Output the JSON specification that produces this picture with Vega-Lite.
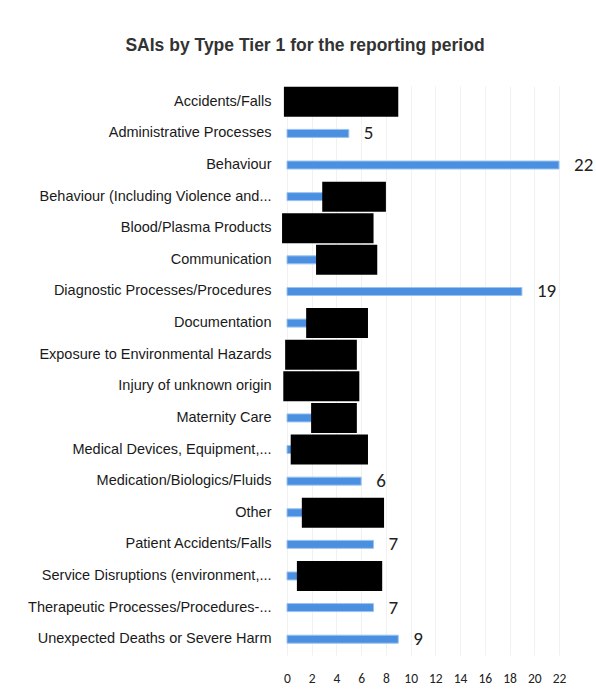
{
  "$schema": "https://vega.github.io/schema/vega-lite/v6.json",
  "width": 272,
  "height": 569,
  "autosize": {"type": "none"},
  "padding": {"left": 287, "top": 86, "right": 37, "bottom": 36},
  "background": "white",
  "title": {
    "text": "SAIs by Type Tier 1 for the reporting period",
    "font": "Liberation Sans Narrow, Liberation Sans, Arial",
    "fontSize": 17.5,
    "fontWeight": "bold",
    "color": "#333333",
    "anchor": "middle",
    "dx": -118,
    "offset": 32
  },
  "datasets": {
    "bars": [
      {"type": "Accidents/Falls", "count": 7, "redacted": true},
      {"type": "Administrative Processes", "count": 5, "redacted": false},
      {"type": "Behaviour", "count": 22, "redacted": false},
      {"type": "Behaviour (Including Violence and...", "count": 4, "redacted": true},
      {"type": "Blood/Plasma Products", "count": 4, "redacted": true},
      {"type": "Communication", "count": 3, "redacted": true},
      {"type": "Diagnostic Processes/Procedures", "count": 19, "redacted": false},
      {"type": "Documentation", "count": 2, "redacted": true},
      {"type": "Exposure to Environmental Hazards", "count": 3, "redacted": true},
      {"type": "Injury of unknown origin", "count": 3, "redacted": true},
      {"type": "Maternity Care", "count": 3, "redacted": true},
      {"type": "Medical Devices, Equipment,...", "count": 3, "redacted": true},
      {"type": "Medication/Biologics/Fluids", "count": 6, "redacted": false},
      {"type": "Other", "count": 2, "redacted": true},
      {"type": "Patient Accidents/Falls", "count": 7, "redacted": false},
      {"type": "Service Disruptions (environment,...", "count": 2, "redacted": true},
      {"type": "Therapeutic Processes/Procedures-...", "count": 7, "redacted": false},
      {"type": "Unexpected Deaths or Severe Harm", "count": 9, "redacted": false}
    ],
    "redactions": [
      {"type": "Accidents/Falls", "from": -0.25, "to": 9.0},
      {"type": "Behaviour (Including Violence and...", "from": 2.85, "to": 8.0},
      {"type": "Blood/Plasma Products", "from": -0.4, "to": 7.0},
      {"type": "Communication", "from": 2.35, "to": 7.3},
      {"type": "Documentation", "from": 1.55, "to": 6.55},
      {"type": "Exposure to Environmental Hazards", "from": -0.15, "to": 5.65},
      {"type": "Injury of unknown origin", "from": -0.3, "to": 5.85},
      {"type": "Maternity Care", "from": 1.95, "to": 5.65},
      {"type": "Medical Devices, Equipment,...", "from": 0.3, "to": 6.55},
      {"type": "Other", "from": 1.2, "to": 7.85},
      {"type": "Service Disruptions (environment,...", "from": 0.8, "to": 7.7}
    ]
  },
  "config": {
    "view": {"stroke": null},
    "axis": {"domain": false, "ticks": false}
  },
  "encoding": {
    "y": {
      "field": "type",
      "type": "nominal",
      "sort": null,
      "scale": {"paddingInner": 0, "paddingOuter": 0},
      "axis": {
        "title": null,
        "labelFont": "Liberation Sans Narrow, Liberation Sans, Arial",
        "labelFontSize": 14.5,
        "labelColor": "#1a1a1a",
        "labelPadding": 16,
        "labelLimit": 300
      }
    }
  },
  "layer": [
    {
      "data": {"name": "bars"},
      "mark": {"type": "bar", "size": 8, "color": "#4a8fe0", "stroke": "#9cc3ef", "strokeWidth": 1},
      "encoding": {
        "x": {
          "field": "count",
          "type": "quantitative",
          "scale": {"domain": [0, 22], "nice": false},
          "axis": {
            "title": null,
            "values": [0, 2, 4, 6, 8, 10, 12, 14, 16, 18, 20, 22],
            "labelOverlap": false,
            "labelFlush": false,
            "labelFont": "Carlito, Liberation Sans, Arial",
            "labelFontSize": 13.5,
            "labelColor": "#222222",
            "labelPadding": 16,
            "grid": true,
            "gridColor": "#f1f1f1",
            "gridWidth": 1
          }
        }
      }
    },
    {
      "data": {"name": "bars"},
      "transform": [{"filter": "!datum.redacted"}],
      "mark": {"type": "text", "align": "left", "baseline": "middle", "dx": 15, "font": "Carlito, Liberation Sans, Arial", "fontSize": 19, "color": "#222222", "clip": false},
      "encoding": {
        "x": {
          "field": "count",
          "type": "quantitative",
          "scale": {"domain": [0, 22], "nice": false},
          "axis": {
            "title": null,
            "values": [0, 2, 4, 6, 8, 10, 12, 14, 16, 18, 20, 22],
            "labelOverlap": false,
            "labelFlush": false,
            "labelFont": "Carlito, Liberation Sans, Arial",
            "labelFontSize": 13.5,
            "labelColor": "#222222",
            "labelPadding": 16,
            "grid": true,
            "gridColor": "#f1f1f1",
            "gridWidth": 1
          }
        },
        "text": {"field": "count", "type": "quantitative"}
      }
    },
    {
      "data": {"name": "redactions"},
      "mark": {"type": "bar", "size": 30, "color": "#000000", "clip": false},
      "encoding": {
        "x": {
          "field": "from",
          "type": "quantitative",
          "scale": {"domain": [0, 22], "nice": false},
          "axis": {
            "title": null,
            "values": [0, 2, 4, 6, 8, 10, 12, 14, 16, 18, 20, 22],
            "labelOverlap": false,
            "labelFlush": false,
            "labelFont": "Carlito, Liberation Sans, Arial",
            "labelFontSize": 13.5,
            "labelColor": "#222222",
            "labelPadding": 16,
            "grid": true,
            "gridColor": "#f1f1f1",
            "gridWidth": 1
          }
        },
        "x2": {"field": "to"}
      }
    }
  ]
}
